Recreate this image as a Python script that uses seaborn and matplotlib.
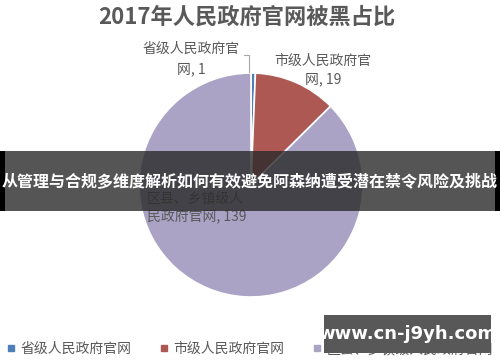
import matplotlib
matplotlib.use("Agg")
import matplotlib.pyplot as plt
from matplotlib.lines import Line2D
from matplotlib.patches import Rectangle
import seaborn as sns

sns.set_theme(style="white")
plt.rcParams['font.family'] = ['Noto Sans CJK SC', 'DejaVu Sans']

title = "2017年人民政府官网被黑占比"
categories = ["省级人民政府官网", "市级人民政府官网", "区县、乡镇级人民政府官网"]
values = [1, 19, 139]
slice_labels = ["省级人民政府官\n网, 1", "市级人民政府官\n网, 19", "区县、乡镇级人\n民政府官网, 139"]
colors = ["#4f7fb8", "#ae5853", "#aaa3c6"]
banner = "从管理与合规多维度解析如何有效避免阿森纳遭受潜在禁令风险及挑战"
watermark = "www.cn-j9yh.com"

W, H = 500, 362
fig = plt.figure(figsize=(W / 100, H / 100), dpi=100)
fig.patch.set_facecolor("white")

def px(x, y):
    return x / W, 1 - y / H

# pie axes
cx, cy, r = 251, 185, 112
ax = fig.add_axes([(cx - r) / W, (H - cy - r) / H, 2 * r / W, 2 * r / H])
wedges, _ = ax.pie(values, colors=colors, startangle=90, counterclock=False,
                   wedgeprops=dict(edgecolor="white", linewidth=1.2))
ax.set_xlim(-1, 1)
ax.set_ylim(-1, 1)
ax.axis("off")

txt = "#595959"
fig.text(*px(247, 17), title, ha="center", va="center", fontsize=16,
         fontweight="bold", color=txt)

# slice labels
fig.text(*px(191, 59), slice_labels[0], ha="center", va="center", fontsize=10,
         color=txt, linespacing=1.55)
fig.text(*px(323, 70), slice_labels[1], ha="center", va="center", fontsize=10,
         color=txt, linespacing=1.4)
fig.text(*px(147, 208), slice_labels[2], ha="left", va="center", fontsize=10,
         color=txt, linespacing=1.4)

# leader line for small slice
x0, y0 = px(249, 72)
x1, y1 = px(249, 55)
x2, y2 = px(244, 55)
fig.add_artist(Line2D([x0, x1, x2], [y0, y1, y2], transform=fig.transFigure,
                      color="#a6a6a6", lw=0.8))

# legend
handles = [Line2D([], [], marker="s", linestyle="none", markersize=4.5,
                  markerfacecolor=c, markeredgecolor=c) for c in colors]
leg = fig.legend(handles, categories, loc="center", bbox_to_anchor=(0.5, 13 / H),
                 ncol=3, frameon=False, fontsize=10, handlelength=0.6,
                 handletextpad=0.4, columnspacing=2.0, labelcolor=txt)

# banner overlay
fig.add_artist(Rectangle(px(0, 211), 1, 60 / H, transform=fig.transFigure,
                         facecolor="#2a2a2a", alpha=0.8, edgecolor="none", zorder=5))
fig.add_artist(Rectangle(px(0, 211), 5 / W, 60 / H, transform=fig.transFigure,
                         facecolor="black", edgecolor="none", zorder=6))
fig.add_artist(Rectangle(px(495, 211), 5 / W, 60 / H, transform=fig.transFigure,
                         facecolor="black", edgecolor="none", zorder=6))
fig.text(*px(250, 182), banner, ha="center", va="center", fontsize=11.5,
         fontweight="bold", color="white", zorder=7)

# watermark
fig.add_artist(Rectangle(px(324, 353), 167 / W, 38 / H, transform=fig.transFigure,
                         facecolor="#4a4a4a", alpha=0.92, edgecolor="none", zorder=5))
fig.text(*px(407, 334), watermark, ha="center", va="center", fontsize=13,
         fontweight="bold", color="white", zorder=7, family="DejaVu Sans")

fig.savefig("out.png", dpi=100)
